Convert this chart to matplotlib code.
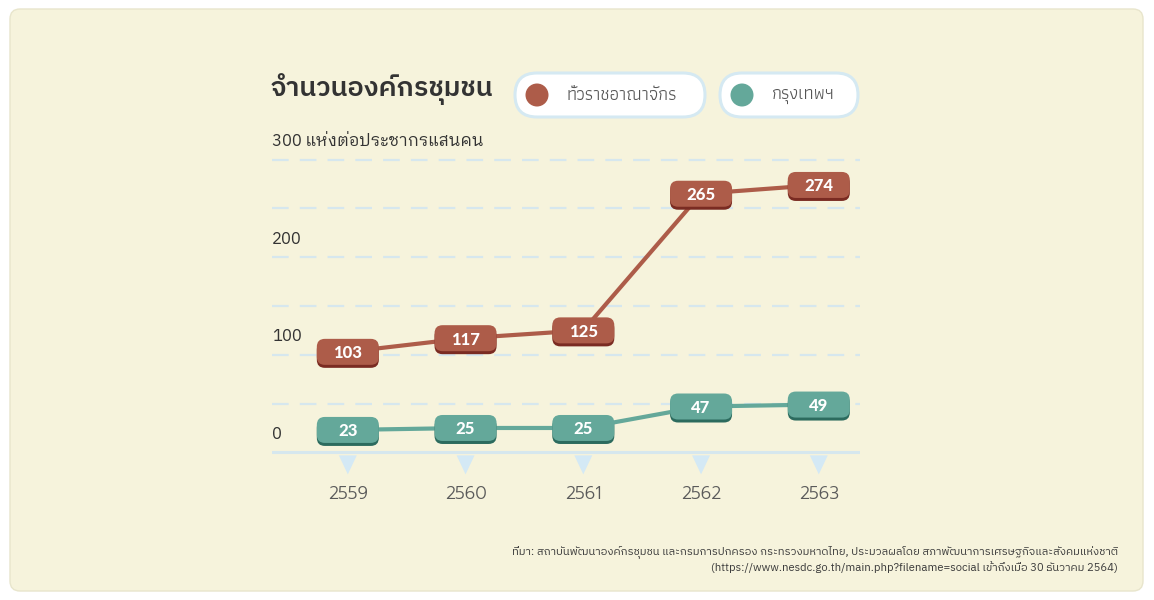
import matplotlib
matplotlib.use("Agg")
import matplotlib.pyplot as plt
import matplotlib.transforms as mtransforms
from matplotlib.patches import FancyBboxPatch, Polygon, Circle

# ---------------- data ----------------
years = ["2559", "2560", "2561", "2562", "2563"]
nationwide = [103, 117, 125, 265, 274]
bangkok = [23, 25, 25, 47, 49]
series_names = ["ทั่วราชอาณาจักร", "กรุงเทพฯ"]
ytick_values = [0, 100, 200, 300]
ytick_labels = ["0", "100", "200", "300 แห่งต่อประชากรแสนคน"]
grid_values = [50, 100, 150, 200, 250, 300]
title = "จำนวนองค์กรชุมชน"
source_lines = [
    "ที่มา: สถาบันพัฒนาองค์กรชุมชน และกรมการปกครอง กระทรวงมหาดไทย, ประมวลผลโดย สภาพัฒนาการเศรษฐกิจและสังคมแห่งชาติ",
    "(https://www.nesdc.go.th/main.php?filename=social เข้าถึงเมื่อ 30 ธันวาคม 2564)",
]

# ---------------- fonts ----------------
F_TITLE = ["IBM Plex Sans Thai", "DejaVu Sans"]
F_LEGEND = ["Athiti", "DejaVu Sans"]
F_FOOT = ["IBM Plex Sans Thai", "DejaVu Sans"]
F_LOOPED = ["IBM Plex Sans Thai Looped", "DejaVu Sans"]
F_YEAR = ["Prompt", "DejaVu Sans"]
F_BOX = ["Lato", "DejaVu Sans"]
plt.rcParams["font.family"] = F_FOOT

RED = "#ad5c49"
RED_D = "#7a2b22"
TEAL = "#64a89a"
TEAL_D = "#2c6b5e"
CREAM = "#f6f3dc"
GRID = "#d6e7ee"
TXT = "#333333"

W, H = 1154, 600
fig = plt.figure(figsize=(W / 100, H / 100), dpi=100, facecolor="white")

# background axes in pixel coordinates
bg = fig.add_axes([0, 0, 1, 1], zorder=0)
bg.set_xlim(0, W)
bg.set_ylim(H, 0)
bg.axis("off")
bg.add_patch(FancyBboxPatch((10, 9), 1133, 582, boxstyle="round,pad=0,rounding_size=10",
                            facecolor=CREAM, edgecolor="#e8e5cc", linewidth=1))

# title
bg.text(271, 89, title, fontsize=19.5, fontweight=600, color=TXT, va="center", ha="left",
        family=F_TITLE)

# legend pills
pills = [(515, 190, RED, series_names[0]), (720, 138, TEAL, series_names[1])]
for x0, w, col, name in pills:
    bg.add_patch(FancyBboxPatch((x0, 73), w, 44, boxstyle="round,pad=0,rounding_size=22",
                                facecolor="white", edgecolor="#d5e9f2", linewidth=2.2))
    bg.add_patch(Circle((x0 + 22, 95), 11.5, facecolor=col, edgecolor="none"))
    bg.text(x0 + 52, 95, name, fontsize=13, fontweight=400, color="#555555", va="center",
            ha="left", family=F_LEGEND)

# source
for i, line in enumerate(source_lines):
    bg.text(1118, 552 + i * 15.5, line, fontsize=8.1, color="#3a3a3a", ha="right", va="center",
            family=F_FOOT)

# ---------------- main axes ----------------
ax_left, ax_right = 272 / W, 860 / W
ax = fig.add_axes([ax_left, (H - 480) / H, ax_right - ax_left, 350 / H], zorder=1)
ax.set_facecolor("none")
x = list(range(len(years)))
ax.set_xlim(-0.644, len(years) - 1 + 0.35)
ax.set_ylim(-28.3, 330.3)
for s in ax.spines.values():
    s.set_visible(False)
ax.set_xticks([])
ax.set_yticks([])

for g in grid_values:
    ax.axhline(g, color=GRID, linewidth=1.6, dashes=(7.5, 5), zorder=1)
ax.axhline(0, color=GRID, linewidth=2.2, zorder=1)

for v, lab in zip(ytick_values, ytick_labels):
    ax.text(-0.644, v + 19, lab, fontsize=12, color=TXT, ha="left", va="center", family=F_LOOPED)

# triangles under baseline + year labels
px = 1 / 0.976  # data units per pixel (y)
xpx = 1 / 118.0
for xi, yr in zip(x, years):
    tri = Polygon([(xi - 9 * xpx, -3 * px), (xi + 9 * xpx, -3 * px), (xi, -22 * px)],
                  closed=True, facecolor="#d4e9f5", edgecolor="none", zorder=1)
    ax.add_patch(tri)
    ax.text(xi, -41.5 * px, yr, fontsize=12.5, color="#5a5a5a", ha="center", va="center",
            family=F_YEAR, fontweight=300)

ax.plot(x, nationwide, color=RED, linewidth=3, zorder=2, solid_capstyle="round")
ax.plot(x, bangkok, color=TEAL, linewidth=3, zorder=2, solid_capstyle="round")


def label_box(xd, yd, text, col, dcol):
    base = mtransforms.ScaledTranslation(xd, yd, ax.transData)
    bw, bh = 62, 26
    sh = FancyBboxPatch((-bw / 2, -bh / 2 - 3), bw, bh, boxstyle="round,pad=0,rounding_size=8",
                        facecolor=dcol, edgecolor="none", transform=base, zorder=3)
    mb = FancyBboxPatch((-bw / 2, -bh / 2), bw, bh, boxstyle="round,pad=0,rounding_size=8",
                        facecolor=col, edgecolor="none", transform=base, zorder=4)
    ax.add_patch(sh)
    ax.add_patch(mb)
    ax.text(xd, yd, text, color="white", fontsize=12, fontweight=900, ha="center",
            va="center_baseline", zorder=5, family=F_BOX)


for xi, v in zip(x, nationwide):
    label_box(xi, v, str(v), RED, RED_D)
for xi, v in zip(x, bangkok):
    label_box(xi, v, str(v), TEAL, TEAL_D)

fig.savefig("out.png", dpi=100, facecolor="white")
